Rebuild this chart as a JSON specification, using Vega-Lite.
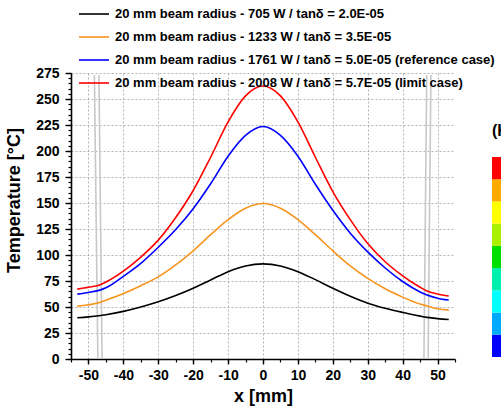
{
  "$schema": "https://vega.github.io/schema/vega-lite/v6.json",
  "width": 384,
  "height": 286,
  "autosize": "none",
  "padding": {"left": 71, "top": 73, "right": 46, "bottom": 47},
  "background": "white",
  "config": {"font": "Liberation Sans", "view": {"stroke": null}},
  "datasets": {
    "curves": [
      {"x": -53.2, "a": 39.7, "b": 50.8, "c": 62.4, "d": 67.2},
      {"x": -50, "a": 40.5, "b": 52.2, "c": 64, "d": 69},
      {"x": -47, "a": 41.6, "b": 54, "c": 66, "d": 71},
      {"x": -45, "a": 42.6, "b": 56.5, "c": 68.5, "d": 74},
      {"x": -40, "a": 45.8, "b": 63, "c": 79.5, "d": 84.5},
      {"x": -35, "a": 50, "b": 70.5, "c": 92, "d": 98},
      {"x": -30, "a": 55, "b": 79, "c": 107.5, "d": 114.3},
      {"x": -25, "a": 61, "b": 90.5, "c": 124.5, "d": 136},
      {"x": -20, "a": 68, "b": 104, "c": 144.5, "d": 162},
      {"x": -15, "a": 76, "b": 119.5, "c": 168.5, "d": 194},
      {"x": -10, "a": 84, "b": 134, "c": 195, "d": 228},
      {"x": -5, "a": 89.5, "b": 145, "c": 215, "d": 253},
      {"x": 0, "a": 91.5, "b": 149.5, "c": 223.5, "d": 262.5},
      {"x": 5, "a": 89.5, "b": 145, "c": 215, "d": 253},
      {"x": 10, "a": 84, "b": 134, "c": 195, "d": 228},
      {"x": 15, "a": 76.3, "b": 119.5, "c": 168, "d": 194},
      {"x": 20, "a": 68, "b": 104, "c": 143, "d": 161},
      {"x": 25, "a": 60.3, "b": 89.5, "c": 121, "d": 134},
      {"x": 30, "a": 53.7, "b": 77.5, "c": 103, "d": 111},
      {"x": 35, "a": 48.8, "b": 67.5, "c": 87.5, "d": 93.5},
      {"x": 40, "a": 44.8, "b": 59.5, "c": 74.5, "d": 80},
      {"x": 45, "a": 41.2, "b": 52.8, "c": 64.5, "d": 69},
      {"x": 47, "a": 40, "b": 51, "c": 61.5, "d": 65.3},
      {"x": 50, "a": 38.8, "b": 48.3, "c": 58.5, "d": 62.5},
      {"x": 53.2, "a": 38, "b": 47, "c": 56.7, "d": 60.5}
    ],
    "names": [
      {"k": "a", "series": "20 mm beam radius - 705 W / tanδ = 2.0E-05"},
      {"k": "b", "series": "20 mm beam radius - 1233 W / tanδ = 3.5E-05"},
      {"k": "c", "series": "20 mm beam radius - 1761 W / tanδ = 5.0E-05 (reference case)"},
      {"k": "d", "series": "20 mm beam radius - 2008 W / tanδ = 5.7E-05 (limit case)"}
    ],
    "walls": [
      {"xa": -48.3, "xb": -47.3, "ya": 273, "yb": 0},
      {"xa": -47.0, "xb": -46.1, "ya": 273, "yb": 0},
      {"xa": 46.9, "xb": 46.1, "ya": 273, "yb": 0},
      {"xa": 48.1, "xb": 47.3, "ya": 273, "yb": 0}
    ],
    "levels": [
      {"v": 0.5}, {"v": 1.5}, {"v": 2.5}, {"v": 3.5}, {"v": 4.5},
      {"v": 5.5}, {"v": 6.5}, {"v": 7.5}, {"v": 8.5}
    ]
  },
  "layer": [
    {
      "data": {"name": "walls"},
      "mark": {"type": "rule", "color": "#c8c8c8", "strokeWidth": 1.6},
      "encoding": {
        "x": {
          "field": "xa", "type": "quantitative",
          "scale": {"domain": [-55, 55], "nice": false, "zero": false},
          "axis": {
            "orient": "bottom", "values": [-55,-50,-45,-40,-35,-30,-25,-20,-15,-10,-5,0,5,10,15,20,25,30,35,40,45,50,55],
            "labels": false, "domain": false, "grid": false, "title": null,
            "tickSize": 3, "tickColor": "black", "tickWidth": 1.2
          }
        },
        "x2": {"field": "xb"},
        "y": {
          "field": "ya", "type": "quantitative",
          "scale": {"domain": [0, 275], "nice": false},
          "axis": {
            "orient": "left", "values": [0,5,10,15,20,25,30,35,40,45,50,55,60,65,70,75,80,85,90,95,100,105,110,115,120,125,130,135,140,145,150,155,160,165,170,175,180,185,190,195,200,205,210,215,220,225,230,235,240,245,250,255,260,265,270,275],
            "labels": false, "domain": false, "grid": false, "title": null,
            "tickSize": 3, "tickColor": "black", "tickWidth": 1.2
          }
        },
        "y2": {"field": "yb"}
      }
    },
    {
      "data": {"name": "curves"},
      "transform": [
        {"fold": ["a", "b", "c", "d"], "as": ["k", "T"]},
        {"lookup": "k", "from": {"data": {"name": "names"}, "key": "k", "fields": ["series"]}}
      ],
      "mark": {"type": "line", "interpolate": "monotone", "strokeWidth": 1.6},
      "encoding": {
        "x": {
          "field": "x", "type": "quantitative",
          "scale": {"domain": [-55, 55], "nice": false, "zero": false},
          "axis": {
            "orient": "bottom", "values": [-50,-40,-30,-20,-10,0,10,20,30,40,50],
            "labelExpr": "'' + datum.value",
            "grid": true, "gridColor": "#b4b4b4", "gridDash": [2, 2], "gridWidth": 1,
            "domainColor": "black", "domainWidth": 1.6,
            "tickColor": "black", "tickWidth": 1.4, "tickSize": 5,
            "labelFontSize": 14, "labelFontWeight": "bold", "labelColor": "black", "labelPadding": 4,
            "title": "x [mm]", "titleFontSize": 18, "titleFontWeight": "bold", "titleColor": "black",
            "titleY": 42, "titleBaseline": "alphabetic"
          }
        },
        "y": {
          "field": "T", "type": "quantitative",
          "scale": {"domain": [0, 275], "nice": false},
          "axis": {
            "orient": "left", "values": [0,25,50,75,100,125,150,175,200,225,250,275],
            "grid": true, "gridColor": "#b4b4b4", "gridDash": [2, 2], "gridWidth": 1,
            "domainColor": "black", "domainWidth": 1.6,
            "tickColor": "black", "tickWidth": 1.4, "tickSize": 6,
            "labelFontSize": 14, "labelFontWeight": "bold", "labelColor": "black", "labelPadding": 6,
            "title": "Temperature [°C]", "titleFontSize": 18, "titleFontWeight": "bold", "titleColor": "black",
            "titleX": -52, "titleY": 127, "titleAngle": -90, "titleAlign": "center", "titleBaseline": "alphabetic"
          }
        },
        "stroke": {
          "field": "series", "type": "nominal",
          "scale": {
            "domain": [
              "20 mm beam radius - 705 W / tanδ = 2.0E-05",
              "20 mm beam radius - 1233 W / tanδ = 3.5E-05",
              "20 mm beam radius - 1761 W / tanδ = 5.0E-05 (reference case)",
              "20 mm beam radius - 2008 W / tanδ = 5.7E-05 (limit case)"
            ],
            "range": ["#000000", "#f7941d", "#0000ff", "#ff0000"]
          },
          "legend": {
            "orient": "none", "legendX": 7, "legendY": -75, "title": null, "padding": 0,
            "symbolType": "stroke", "symbolSize": 900, "symbolStrokeWidth": 1.6,
            "labelFontSize": 13, "labelFontWeight": "bold", "labelColor": "black",
            "labelLimit": 1000, "labelOffset": 5, "rowPadding": -11.5
          }
        }
      }
    },
    {
      "data": {"name": "levels"},
      "mark": {"type": "square", "opacity": 0},
      "encoding": {
        "fill": {
          "field": "v", "type": "quantitative",
          "scale": {
            "type": "quantize",
            "domain": [0, 9],
            "range": ["#0000ff", "#00aaff", "#00ffff", "#00f0b0", "#00e000", "#aaf000", "#ffff00", "#ffaa00", "#ff0000"]
          },
          "legend": {
            "orient": "none", "legendX": 421, "legendY": 50, "padding": 0,
            "direction": "vertical", "gradientLength": 198, "gradientThickness": 22,
            "gradientStrokeColor": "#1a1a1a", "gradientStrokeWidth": 1,
            "title": "(K)", "titleFontSize": 16, "titleFontWeight": "bold", "titleColor": "black", "titlePadding": 18,
            "labelExpr": "''"
          }
        }
      }
    }
  ],
  "resolve": {"axis": {"x": "independent", "y": "independent"}}
}
